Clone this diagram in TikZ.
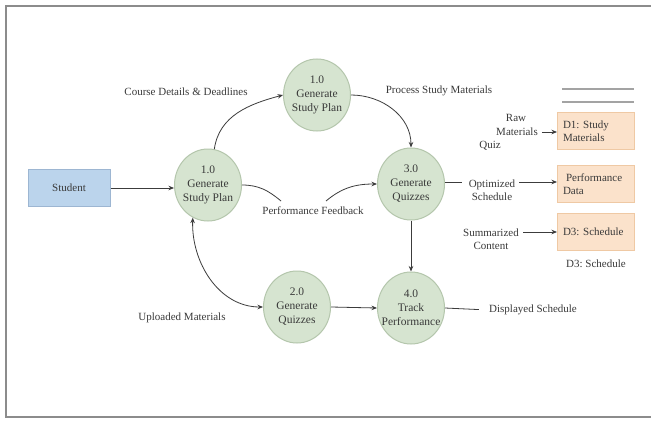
\documentclass[tikz,border=0pt]{standalone}
\usepackage{fontspec}
\setmainfont{Liberation Serif}
\usetikzlibrary{shapes.geometric,arrows.meta}
\definecolor{txt}{HTML}{3A3A3A}
\definecolor{procfill}{HTML}{D6E4D0}
\definecolor{procline}{HTML}{B4C6AC}
\definecolor{extfill}{HTML}{BBD4EC}
\definecolor{extline}{HTML}{9DB6D2}
\definecolor{storefill}{HTML}{FBE2CB}
\definecolor{storeline}{HTML}{EFC9A4}
\definecolor{framec}{HTML}{8C8C8C}
\definecolor{linec}{HTML}{3C3C3C}
\frenchspacing
\begin{document}
\begin{tikzpicture}[x=1pt,y=-1pt,
  every node/.style={text=txt,font=\fontsize{11}{13.5}\selectfont},
  proc/.style={ellipse,draw=procline,line width=1pt,fill=procfill,minimum width=67pt,minimum height=72pt,inner xsep=-8pt,inner ysep=0pt,align=center,font=\fontsize{11.5}{14}\selectfont},
  ext/.style={rectangle,draw=extline,line width=1pt,fill=extfill,minimum width=82pt,minimum height=37pt},
  store/.style={rectangle,draw=storeline,line width=1pt,fill=storefill,minimum width=77pt,minimum height=37pt,align=left,text width=66pt},
  lbl/.style={inner sep=1pt,align=center},
  flow/.style={draw=linec,line width=0.8pt},
  arr/.style={flow,-{Stealth[length=5.5pt,width=4.5pt]}},
  darr/.style={flow,{Stealth[length=5.5pt,width=4.5pt]}-{Stealth[length=5.5pt,width=4.5pt]}}]
\useasboundingbox (0,0) rectangle (651,423);
\fill[white] (0,0) rectangle (651,423);
% frame
\draw[framec,line width=2pt] (651,6) -- (6,6) -- (6,417) -- (651,417);

% nodes
\node[ext] (st) at (69,188) {Student};
\node[proc] (p1) at (208,185) {1.0\\Generate\\Study Plan};
\node[proc] (p1b) at (317,95) {1.0\\Generate\\Study Plan};
\node[proc] (p3) at (411,184) {3.0\\Generate\\Quizzes};
\node[proc] (p2) at (297,307) {2.0\\Generate\\Quizzes};
\node[proc] (p4) at (411,308) {4.0\\Track\\Performance};

\node[store] (d1) at (596,131) {D1: Study\\Materials};
\node[store] (pd) at (596,184) {\hspace*{3pt}Performance\\Data};
\node[store] (d3) at (596,232) {D3: Schedule};

% labels
\node[lbl] (lcd) at (186,92) {Course Details \& Deadlines};
\node[lbl] (lpsm) at (439,91) {Process Study Materials};
\node[lbl] (lpf) at (313,211) {Performance Feedback};
\node[lbl] (lum) at (182,318) {Uploaded Materials};
\node[lbl] (lds) at (533,310) {Displayed Schedule};
\node[lbl] (lraw) at (516,118) {Raw};
\node[lbl] (lmat) at (517,132) {Materials};
\node[lbl] (lquiz) at (490,146) {Quiz};
\node[lbl] (lopt) at (492,190) {Optimized\\Schedule};
\node[lbl] (lsum) at (491,239) {Summarized\\Content};
\node[lbl] (ld3) at (596,264) {D3: Schedule};

% store header lines
\draw[framec!80,line width=1.3pt] (562,89) -- (634,89);
\draw[framec!80,line width=1.3pt] (562,102) -- (634,102);

% flows
\coordinate (pfa) at (281,201);
\coordinate (pfb) at (326,201);
\draw[arr] (st.east) -- (p1.west |- st.east);
\draw[arr] (p1.80) to[out=82,in=195] (p1b.west);
\draw[arr] (p1b.east) to[out=0,in=90] (p3.north);
\draw[flow] (p1.east) to[out=0,in=140] (pfa);
\draw[arr] (pfb) to[out=40,in=180] (p3.west);
\draw[arr] (p3.south) -- (p4.north);
\draw[arr] (p2.east) -- (p4.west);
\draw[flow,shorten >=9pt] (p4.east) -- (lds.west);
\draw[flow,shorten >=6pt] (p3.east |- 0,182) -- (lopt.west |- 0,182);
\draw[arr,shorten <=3pt] (lopt.east |- 0,182) -- (pd.west |- 0,182);
\draw[darr] (p1.-115) to[out=-92,in=180] (p2.west);
\draw[arr,shorten <=3pt] (lmat.east) -- (d1.west |- lmat.east);
\draw[arr,shorten <=3pt] (lsum.east |- d3.west) -- (d3.west);
\end{tikzpicture}
\end{document}
